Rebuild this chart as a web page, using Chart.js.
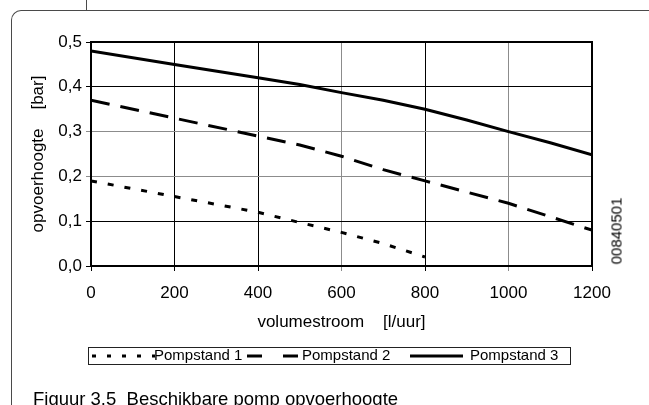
<!DOCTYPE html>
<html>
<head>
<meta charset="utf-8">
<script src="https://cdn.jsdelivr.net/npm/chart.js@4.4.1/dist/chart.umd.min.js"></script>
<style>
  html, body { margin: 0; padding: 0; background: #fff; }
  #wrap { position: relative; width: 649px; height: 405px; overflow: hidden;
          font-family: "Liberation Sans", Arial, sans-serif; color: #000; }
  #frame { position: absolute; left: 11px; top: 10px; width: 700px; height: 500px;
           border-left: 1px solid #4a4a4a; border-top: 1px solid #4a4a4a;
           border-top-left-radius: 10px; }
  #tab { position: absolute; left: 86px; top: 0; width: 0; height: 10px;
         border-left: 1px solid #4a4a4a; }
  #chart { position: absolute; left: 0; top: 0; }
  #code { position: absolute; left: 616px; top: 231px; font-size: 15px; white-space: nowrap;
          transform: translate(-50%, -50%) rotate(-90deg); }
  #caption { position: absolute; left: 33px; top: 389.5px; font-size: 18.5px; line-height: 18.5px;
             white-space: nowrap; }
</style>
</head>
<body>
<div id="wrap">
  <div id="frame"></div>
  <div id="tab"></div>
  <canvas id="chart" width="649" height="405"></canvas>
  <div id="code">00840501</div>
  <div id="caption">Figuur 3.5&nbsp;&nbsp;Beschikbare pomp opvoerhoogte</div>
</div>
<script>
// Pump curves: delivery head [bar] against volume flow [l/uur]
const flowRate   = [0, 200, 400, 500, 600, 700, 800, 900, 1000, 1100, 1200];
const pompstand1 = [0.19, 0.155, 0.12, 0.097, 0.075, 0.05, 0.02, null, null, null, null];
const pompstand2 = [0.37, 0.33, 0.29, 0.27, 0.245, 0.215, 0.19, 0.165, 0.14, 0.11, 0.08];
const pompstand3 = [0.48, 0.45, 0.42, 0.405, 0.387, 0.37, 0.35, 0.326, 0.30, 0.275, 0.248];
const seriesNames = ['Pompstand 1', 'Pompstand 2', 'Pompstand 3'];
const xTickLabels = ['0', '200', '400', '600', '800', '1000', '1200'];
const yTickLabels = ['0,0', '0,1', '0,2', '0,3', '0,4', '0,5'];

const FONT = '"Liberation Sans", Arial, sans-serif';
Chart.defaults.font.family = FONT;
Chart.defaults.font.size = 17;
Chart.defaults.color = '#000';

const toPoints = values => flowRate.map((x, i) => ({ x: x, y: values[i] }));

// lighter grid lines
const softX = [600, 1000];
const softY = [0.2, 0.3];
const near = (a, b) => Math.abs(a - b) < 1e-6;

// heavy frame round the plot area
const plotFrame = {
  id: 'plotFrame',
  beforeDatasetsDraw(chart) {
    const { ctx, chartArea: a } = chart;
    ctx.save();
    ctx.strokeStyle = '#000';
    ctx.lineWidth = 2;
    ctx.strokeRect(a.left, a.top, a.right - a.left, a.bottom - a.top);
    ctx.restore();
  }
};

// legend inside a thin box; each entry has its own line sample and label slot
const boxedLegend = {
  id: 'boxedLegend',
  afterDraw(chart, args, o) {
    const ctx = chart.ctx;
    ctx.save();
    ctx.strokeStyle = '#222';
    ctx.lineWidth = 1;
    ctx.strokeRect(o.left + 0.5, o.top + 0.5, o.width, o.height);
    const cy = o.top + o.height / 2 + 0.5;
    ctx.font = '15px ' + FONT;
    ctx.textBaseline = 'middle';
    chart.data.datasets.forEach((ds, i) => {
      const s = o.entries[i];
      ctx.beginPath();
      ctx.setLineDash(s.dash);
      ctx.lineWidth = ds.borderWidth;
      ctx.strokeStyle = ds.borderColor;
      ctx.moveTo(o.left + s.from, cy);
      ctx.lineTo(o.left + s.to, cy);
      ctx.stroke();
      ctx.setLineDash([]);
      ctx.fillStyle = '#000';
      ctx.fillText(ds.label, o.left + s.text, cy);
    });
    ctx.restore();
  }
};

new Chart(document.getElementById('chart'), {
  type: 'line',
  data: {
    datasets: [
      { label: seriesNames[0], data: toPoints(pompstand1), borderColor: '#000',
        borderWidth: 3, borderDash: [6, 11], pointRadius: 0, tension: 0 },
      { label: seriesNames[1], data: toPoints(pompstand2), borderColor: '#000',
        borderWidth: 3, borderDash: [19, 11], pointRadius: 0, tension: 0 },
      { label: seriesNames[2], data: toPoints(pompstand3), borderColor: '#000',
        borderWidth: 3, pointRadius: 0, tension: 0 }
    ]
  },
  options: {
    responsive: false,
    animation: false,
    events: [],
    layout: { padding: { left: 0, right: 57, top: 42, bottom: 65 } },
    plugins: {
      legend: { display: false },
      tooltip: { enabled: false },
      boxedLegend: {
        left: 88, top: 347, width: 482, height: 17,
        entries: [
          { from: 4,   to: 67,  dash: [4, 11],  text: 66 },
          { from: 159, to: 210, dash: [15, 21], text: 214 },
          { from: 322, to: 375, dash: [],       text: 382 }
        ]
      }
    },
    scales: {
      x: {
        type: 'linear', min: 0, max: 1200,
        ticks: { stepSize: 200, padding: 12, maxRotation: 0,
                 callback: (v, i) => xTickLabels[i] },
        grid: { color: c => softX.some(v => near(v, c.tick.value)) ? '#8c8c8c' : '#000',
                lineWidth: 1, tickLength: 5 },
        border: { display: false },
        title: { display: true, text: 'volumestroom    [l/uur]',
                 padding: { top: 0, bottom: 7 } },
        afterFit(s) { s.height = 74; }
      },
      y: {
        min: 0, max: 0.5,
        ticks: { stepSize: 0.1, padding: 4, callback: (v, i) => yTickLabels[i] },
        grid: { color: c => softY.some(v => near(v, c.tick.value)) ? '#8c8c8c' : '#000',
                lineWidth: 1, tickLength: 5 },
        border: { display: false },
        title: { display: true, text: 'opvoerhoogte    [bar]',
                 padding: { top: 28, bottom: 0 } },
        afterFit(s) { s.width = 91; }
      }
    }
  },
  plugins: [plotFrame, boxedLegend]
});
</script>
</body>
</html>
